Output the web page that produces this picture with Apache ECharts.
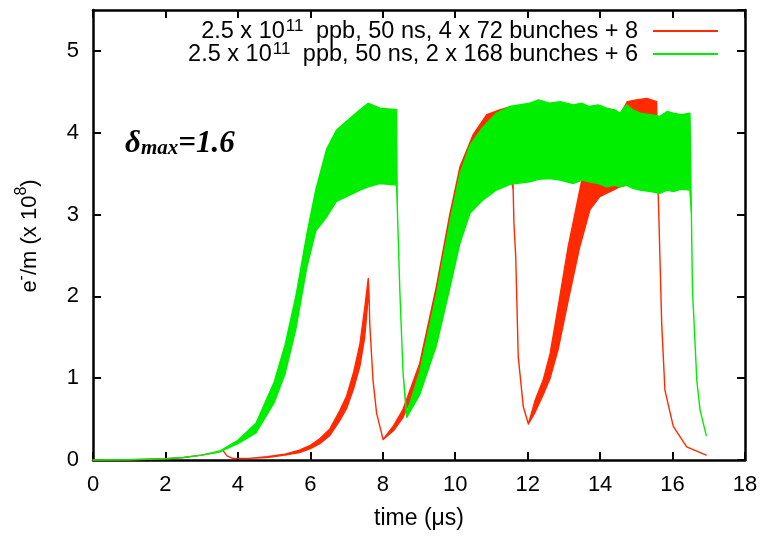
<!DOCTYPE html>
<html>
<head>
<meta charset="utf-8">
<script src="https://cdn.jsdelivr.net/npm/echarts@6/dist/echarts.min.js"></script>
<style>html,body{margin:0;padding:0;background:#fff}#c{width:765px;height:536px}</style>
</head>
<body>
<div id="c"></div>
<script>
// ---------- data ----------
const xTicks = [0, 2, 4, 6, 8, 10, 12, 14, 16, 18];
const yTicks = [0, 1, 2, 3, 4, 5];

const seriesNames = [
  '2.5 x 10^11 ppb, 50 ns, 4 x 72 bunches + 8',
  '2.5 x 10^11 ppb, 50 ns, 2 x 168 bunches + 6'
];

// red: 4 x 72 bunches + 8  (upper / lower envelope of the oscillating band)
const timeRed = [0, 1, 2, 2.5, 3, 3.5, 3.58, 3.7, 3.86, 4.3, 4.8, 5.3, 5.7, 6.0, 6.26, 6.54, 6.81, 7.0, 7.2, 7.37, 7.5, 7.6,
  7.62, 7.64, 7.73, 7.83, 8.01,
  8.3, 8.56, 9.02, 9.48, 9.85, 10.13, 10.5, 10.87, 11.23, 11.55,
  11.6, 11.62, 11.67, 11.74, 11.88, 12.02,
  12.2, 12.43, 12.62, 12.84, 13.12, 13.44, 13.72, 13.99, 14.36, 14.55, 14.75, 15.0, 15.29, 15.56,
  15.6, 15.62, 15.7, 15.79, 16.02, 16.39, 16.93];
const upperRed = [0, 0.003, 0.015, 0.03, 0.06, 0.10, 0.12, 0.05, 0.02, 0.02, 0.04, 0.07, 0.12, 0.18, 0.26, 0.38, 0.60, 0.78, 1.08, 1.42, 1.85, 2.22,
  2.05, 1.67, 0.98, 0.57, 0.25,
  0.42, 0.62, 1.18, 2.12, 3.00, 3.58, 3.98, 4.22, 4.28, 4.32,
  3.30, 2.90, 2.49, 1.26, 0.65, 0.44,
  0.72, 0.98, 1.30, 1.87, 2.61, 3.30, 3.90, 4.15, 4.20, 4.22, 4.38, 4.40, 4.42, 4.38,
  3.30, 3.00, 1.67, 0.85, 0.41, 0.16, 0.06];
const lowerRed = [0, 0.003, 0.015, 0.03, 0.06, 0.10, 0.12, 0.05, 0.02, 0.02, 0.03, 0.06, 0.09, 0.14, 0.20, 0.30, 0.48, 0.63, 0.88, 1.15, 1.50, 2.00,
  2.05, 1.67, 0.98, 0.57, 0.25,
  0.36, 0.52, 1.02, 1.90, 2.75, 3.30, 3.60, 3.40, 3.40, 3.42,
  3.30, 2.90, 2.49, 1.26, 0.65, 0.44,
  0.58, 0.80, 1.00, 1.35, 1.95, 2.61, 3.06, 3.22, 3.30, 3.34, 3.36, 3.36, 3.36, 3.36,
  3.30, 3.00, 1.67, 0.85, 0.41, 0.16, 0.06];

// green: 2 x 168 bunches + 6
const timeGreen = [0, 1, 2, 2.5, 3, 3.5, 4.0, 4.5, 5.0, 5.3, 5.6, 5.9, 6.15, 6.45, 6.72, 7.0, 7.37, 7.6, 7.92, 8.38,
  8.40, 8.47, 8.56, 8.66,
  9.02, 9.48, 9.85, 10.13, 10.41, 10.77, 11.14, 11.51,
  12.06, 12.3, 12.6, 12.9, 13.26, 13.5, 13.7, 13.95, 14.18, 14.4, 14.55, 14.73, 14.9, 15.1, 15.4, 15.65, 15.85, 16.02, 16.25, 16.48,
  16.52, 16.55, 16.67, 16.76, 16.93];
const upperGreen = [0, 0.003, 0.015, 0.03, 0.06, 0.11, 0.24, 0.45, 0.95, 1.40, 2.00, 2.75, 3.30, 3.80, 4.03, 4.14, 4.28, 4.36, 4.30, 4.28,
  3.10, 2.08, 1.06, 0.57,
  1.08, 2.02, 2.90, 3.50, 3.85, 4.07, 4.24, 4.32,
  4.36, 4.40, 4.36, 4.38, 4.34, 4.36, 4.32, 4.34, 4.30, 4.28, 4.24, 4.34, 4.28, 4.24, 4.22, 4.20, 4.26, 4.24, 4.22, 4.24,
  3.00, 2.08, 0.97, 0.61, 0.30];
const lowerGreen = [0, 0.003, 0.015, 0.03, 0.06, 0.10, 0.20, 0.33, 0.70, 1.05, 1.60, 2.35, 2.80, 2.97, 3.16, 3.22, 3.30, 3.34, 3.38, 3.36,
  3.10, 2.08, 1.06, 0.52,
  0.80, 1.40, 2.10, 2.65, 3.02, 3.18, 3.30, 3.37,
  3.40, 3.43, 3.44, 3.42, 3.38, 3.42, 3.40, 3.38, 3.34, 3.36, 3.34, 3.36, 3.32, 3.30, 3.28, 3.26, 3.30, 3.28, 3.31, 3.30,
  3.00, 2.08, 0.97, 0.61, 0.30];

const RED = '#ff2a00';
const GREEN = '#00ee00';
const FONT = "'Liberation Sans', Arial, Helvetica, sans-serif";
const SERIF = "'Liberation Serif', 'DejaVu Serif', serif";

function band(t, up, lo, color) {
  return function (params, api) {
    const pts = [];
    for (let i = 0; i < t.length; i++) pts.push(api.coord([t[i], up[i]]));
    for (let i = t.length - 1; i >= 0; i--) pts.push(api.coord([t[i], lo[i]]));
    return {
      type: 'polygon',
      shape: { points: pts },
      style: { fill: color, stroke: color, lineWidth: 1.4, lineJoin: 'round' }
    };
  };
}

function legendLabel(name) {
  const parts = name.split('^');
  const rest = parts[1];
  return '{b|' + parts[0] + '}{s|' + rest.slice(0, 2) + '}{b|' + rest.slice(2) + '}';
}

const axisCommon = {
  axisLine: { show: true, onZero: false, lineStyle: { color: '#000', width: 2.5 } },
  axisTick: { show: true, inside: true, length: 8, lineStyle: { color: '#000', width: 2 } },
  splitLine: { show: false }
};

const chart = echarts.init(document.getElementById('c'), null, { renderer: 'canvas' });
chart.setOption({
  animation: false,
  backgroundColor: '#fff',
  grid: { left: 93, right: 20, top: 10, bottom: 76, containLabel: false },
  xAxis: [
    Object.assign({}, axisCommon, {
      type: 'value', position: 'bottom', min: xTicks[0], max: xTicks[xTicks.length - 1], interval: 2,
      name: 'time (μs)', nameLocation: 'middle', nameGap: 47,
      nameTextStyle: { fontFamily: FONT, fontSize: 23, color: '#000' },
      axisLabel: { fontFamily: FONT, fontSize: 22, color: '#000', margin: 14 }
    }),
    Object.assign({}, axisCommon, {
      type: 'value', position: 'top', min: xTicks[0], max: xTicks[xTicks.length - 1], interval: 2,
      axisLabel: { show: false }
    })
  ],
  yAxis: [
    Object.assign({}, axisCommon, {
      type: 'value', position: 'left', min: yTicks[0], max: 5.5, interval: 1,
      axisLabel: { fontFamily: FONT, fontSize: 22, color: '#000', margin: 14, showMaxLabel: false }
    }),
    Object.assign({}, axisCommon, {
      type: 'value', position: 'right', min: yTicks[0], max: 5.5, interval: 1,
      axisLabel: { show: false }
    })
  ],
  legend: {
    orient: 'vertical',
    right: 42,
    top: 13,
    align: 'right',
    itemWidth: 65,
    itemHeight: 2,
    itemGap: -3,
    icon: 'rect',
    selectedMode: false,
    data: seriesNames,
    formatter: function (n) { return legendLabel(n); },
    textStyle: {
      padding: [0, 10, 0, 0],
      rich: {
        b: { fontFamily: FONT, fontSize: 23.5, color: '#000', lineHeight: 26, verticalAlign: 'bottom' },
        s: { fontFamily: FONT, fontSize: 17, color: '#000', lineHeight: 16, verticalAlign: 'top', padding: [0, 6, 0, 1] }
      }
    }
  },
  graphic: [
    {
      type: 'text', left: 125, top: 128,
      style: {
        text: '{d|δ}{m|max}{e|=1.6}',
        rich: {
          d: { fontFamily: SERIF, fontStyle: 'italic', fontWeight: 'bold', fontSize: 31, color: '#000', verticalAlign: 'bottom', lineHeight: 36 },
          m: { fontFamily: SERIF, fontStyle: 'italic', fontWeight: 'bold', fontSize: 21, color: '#000', verticalAlign: 'bottom', lineHeight: 28 },
          e: { fontFamily: SERIF, fontStyle: 'italic', fontWeight: 'bold', fontSize: 31, color: '#000', verticalAlign: 'bottom', lineHeight: 36 }
        }
      }
    },
    {
      type: 'text', x: 27, y: 236, rotation: Math.PI / 2,
      style: {
        text: '{b|e}{s|-}{b|/m (x 10}{s|8}{b|)}',
        align: 'center', verticalAlign: 'middle',
        rich: {
          b: { fontFamily: FONT, fontSize: 22, color: '#000', lineHeight: 27, verticalAlign: 'bottom' },
          s: { fontFamily: FONT, fontSize: 16, color: '#000', lineHeight: 16, verticalAlign: 'top' }
        }
      }
    }
  ],
  series: [
    {
      name: seriesNames[0], type: 'custom', xAxisIndex: 0, yAxisIndex: 0,
      itemStyle: { color: RED }, data: [[0, 0]], z: 2,
      renderItem: band(timeRed, upperRed, lowerRed, RED)
    },
    {
      name: seriesNames[1], type: 'custom', xAxisIndex: 0, yAxisIndex: 0,
      itemStyle: { color: GREEN }, data: [[0, 0]], z: 3,
      renderItem: band(timeGreen, upperGreen, lowerGreen, GREEN)
    }
  ]
});
</script>
</body>
</html>
